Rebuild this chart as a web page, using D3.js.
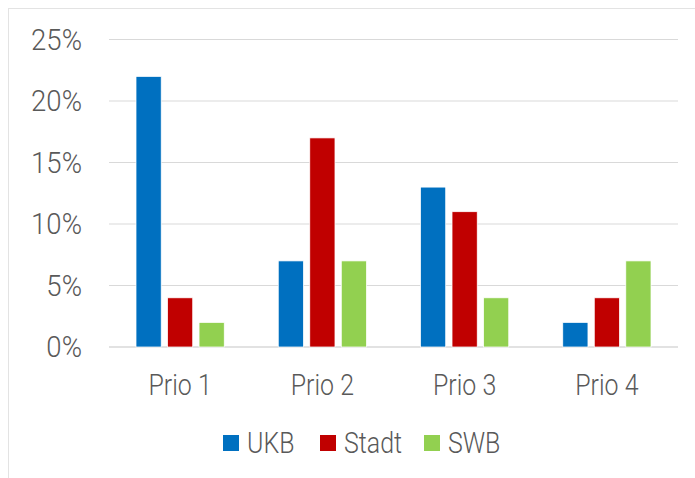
<!DOCTYPE html>
<html>
<head>
<meta charset="utf-8">
<script src="https://cdn.jsdelivr.net/npm/d3@7"></script>
<style>
  body { margin: 0; background: #fff; }
  text { font-family: Roboto, "Liberation Sans", sans-serif; font-weight: 300; fill: #595959; font-size: 29px; }
</style>
</head>
<body>
<script>
const categories = ["Prio 1", "Prio 2", "Prio 3", "Prio 4"]
const series = ["UKB", "Stadt", "SWB"]
const UKB = [22, 7, 13, 2]
const Stadt = [4, 17, 11, 4]
const SWB = [2, 7, 4, 7]
const yTicks = [0, 5, 10, 15, 20, 25]
const colors = ["#0070C0", "#C00000", "#92D050"]

const values = { UKB, Stadt, SWB }

const width = 695
const height = 478
const margin = { top: 39.5, left: 109, right: 17, bottom: 131 }
const squeeze = 0.86 // the original font is condensed

const svg = d3.select('body').append('svg')
    .attr('width', width)
    .attr('height', height)

// chart frame
svg.append('rect')
    .attr('x', 8.5).attr('y', 8.5)
    .attr('width', width).attr('height', height)
    .attr('fill', 'none')
    .attr('stroke', '#e3e3e3')
    .attr('stroke-width', 1)

const x = d3.scaleBand()
    .domain(categories)
    .range([margin.left, width - margin.right])

const xInner = d3.scaleBand()
    .domain(series)
    .range([27, x.bandwidth() - 27])
    .paddingInner(0.2)

const y = d3.scaleLinear()
    .domain([0, 25])
    .range([height - margin.bottom, margin.top])

// grid lines
svg.append('g')
    .selectAll('line')
    .data(yTicks)
    .enter()
    .append('line')
    .attr('x1', margin.left)
    .attr('x2', width - margin.right)
    .attr('y1', d => y(d))
    .attr('y2', d => y(d))
    .attr('stroke', '#d9d9d9')
    .attr('stroke-width', d => d === 0 ? 1.5 : 1)

// y labels
svg.append('g')
    .selectAll('text')
    .data(yTicks)
    .enter()
    .append('text')
    .attr('transform', d => `translate(82,${y(d) + 10}) scale(0.95,1)`)
    .attr('text-anchor', 'end')
    .text(d => d + '%')

// bars
const groups = svg.append('g')
    .selectAll('g')
    .data(categories)
    .enter()
    .append('g')
    .attr('transform', c => `translate(${x(c)},0)`)

groups.selectAll('rect')
    .data((c, i) => series.map((s, j) => ({ s, v: values[s][i], j })))
    .enter()
    .append('rect')
    .attr('x', d => xInner(d.s))
    .attr('width', xInner.bandwidth())
    .attr('y', d => y(d.v))
    .attr('height', d => y(0) - y(d.v))
    .attr('fill', d => colors[d.j])
    .attr('stroke', '#fff')
    .attr('stroke-width', 0.75)

// x labels
svg.append('g')
    .selectAll('text')
    .data(categories)
    .enter()
    .append('text')
    .attr('transform', c => `translate(${x(c) + x.bandwidth() / 2},395) scale(${squeeze},1)`)
    .attr('text-anchor', 'middle')
    .text(c => c)

// legend
const legendX = [223, 320, 424]
const legend = svg.append('g')
    .selectAll('g')
    .data(series)
    .enter()
    .append('g')
    .attr('transform', (s, i) => `translate(${legendX[i]},435)`)

legend.append('rect')
    .attr('width', 16)
    .attr('height', 16)
    .attr('fill', (s, i) => colors[i])

legend.append('text')
    .attr('transform', `translate(24,18) scale(${squeeze},1)`)
    .text(s => s)
</script>
</body>
</html>
